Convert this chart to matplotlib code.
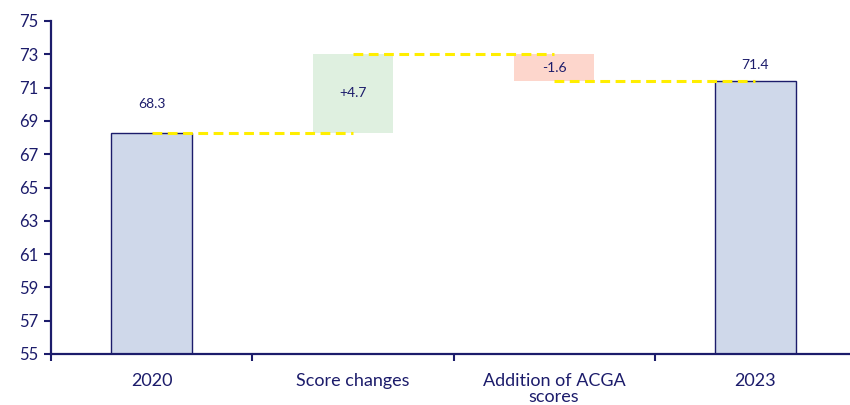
import matplotlib
matplotlib.use("Agg")
import matplotlib.pyplot as plt
import numpy as np

plt.rcParams['font.family'] = ['Lato', 'DejaVu Sans']

categories = ["2020", "Score changes", "Addition of ACGA\nscores", "2023"]
start_value = 68.3
changes = [4.7, -1.6]
end_value = 71.4
yticks = [55, 57, 59, 61, 63, 65, 67, 69, 71, 73, 75]

navy = "#1c1c6b"
bar_fill = "#cfd8ea"
up_fill = "#dff0e0"
down_fill = "#fdd6cc"
connector = "#ffee00"

fig = plt.figure(figsize=(8.5, 4.05), dpi=100)
ax = fig.add_axes([51 / 850, 1 - 354 / 405, (856 - 51) / 850, (354 - 21) / 405])

x = np.arange(len(categories))
width = 0.4
base = 55

# Totals
for xi, val in [(x[0], start_value), (x[3], end_value)]:
    ax.bar(xi, val - base, bottom=base, width=width, color=bar_fill,
           edgecolor=navy, linewidth=1.0, zorder=2)

# Changes
levels = [start_value]
for c in changes:
    levels.append(round(levels[-1] + c, 1))
for i, c in enumerate(changes):
    lo = min(levels[i], levels[i + 1])
    ax.bar(x[i + 1], abs(c), bottom=lo, width=width,
           color=up_fill if c > 0 else down_fill, linewidth=0, zorder=2)
    ax.text(x[i + 1], lo + abs(c) / 2, f"{c:+.1f}", ha="center", va="center",
            fontsize=10, color=navy, zorder=4)

# Connectors between consecutive levels
for i, lvl in enumerate(levels):
    ax.plot([x[i], x[i + 1]], [lvl, lvl],
            color=connector, linestyle=(0, (3.2, 1.8)), linewidth=2.2, zorder=3)

# Total labels
ax.annotate(f"{start_value}", (x[0], start_value), xytext=(0, 16),
            textcoords="offset points", ha="center", va="bottom", fontsize=10, color=navy)
ax.annotate(f"{end_value}", (x[3], end_value), xytext=(0, 7),
            textcoords="offset points", ha="center", va="bottom", fontsize=10, color=navy)

ax.set_xlim(-0.5, 3.5)
ax.set_ylim(55, 75)
ax.set_yticks(yticks)
ax.set_yticklabels([str(t) for t in yticks], fontsize=12, color=navy)

ax.set_xticks([-0.5, 0.5, 1.5, 2.5])
ax.set_xticklabels([])
ax.set_xticks(x, minor=True)
ax.set_xticklabels(categories, minor=True, fontsize=13, color=navy, va="top",
                   linespacing=1.0)
ax.tick_params(axis="x", which="minor", length=0, pad=14)
ax.tick_params(axis="x", which="major", length=5, width=1.5, color=navy, direction="out")
ax.tick_params(axis="y", length=5, width=1.5, color=navy, direction="out", pad=4)

for s in ["top", "right"]:
    ax.spines[s].set_visible(False)
for s in ["left", "bottom"]:
    ax.spines[s].set_color(navy)
    ax.spines[s].set_linewidth(1.6)

fig.savefig("out.png", dpi=100)
